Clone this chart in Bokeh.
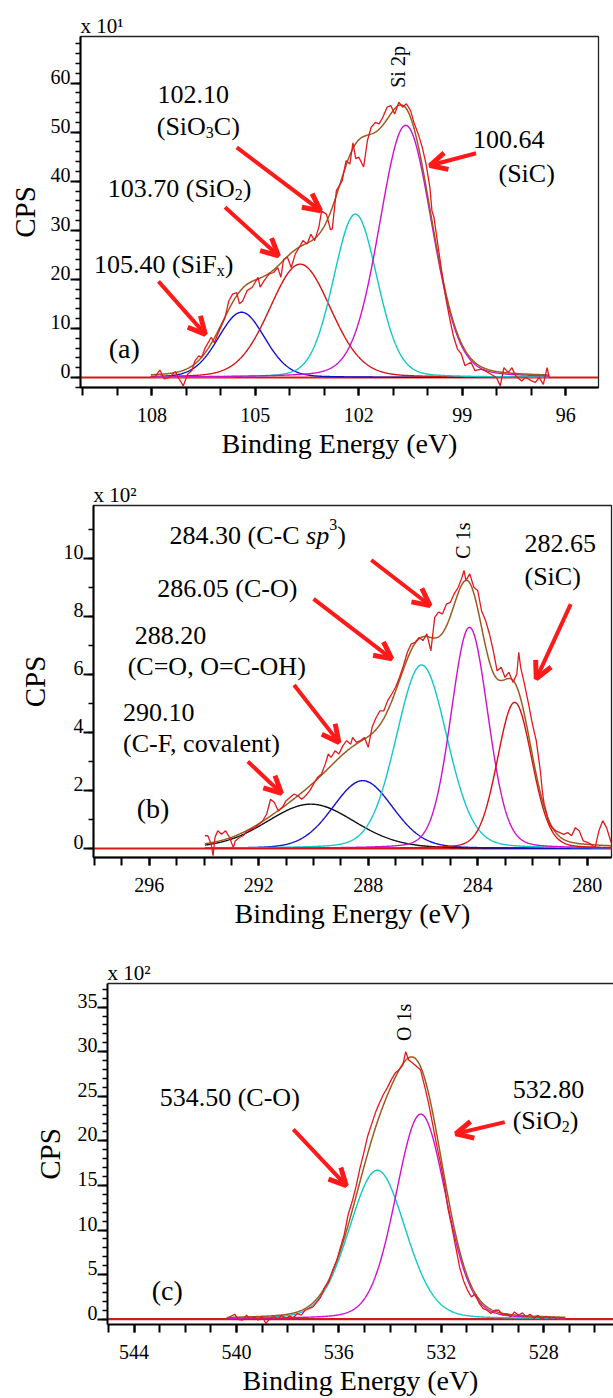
import numpy as np
from bokeh.plotting import figure
from bokeh.models import (Range1d, LinearAxis, SingleIntervalTicker, FixedTicker,
                          Label, Arrow, OpenHead, Title)
from bokeh.layouts import column
from bokeh.embed import file_html
from bokeh.resources import INLINE

FONT = "Liberation Serif"

# ---------------- data: (a) Si 2p  (counts x 10) ----------------
si_energy = [108.03, 107.92, 107.77, 107.64, 107.50, 107.32, 107.21, 107.09, 106.96, 106.84,
             106.75, 106.64, 106.56, 106.45, 106.28, 106.19, 106.05, 105.88, 105.77, 105.66,
             105.54, 105.46, 105.37, 105.24, 105.09, 104.92, 104.86, 104.75, 104.60, 104.47,
             104.35, 104.26, 104.18, 104.07, 103.96, 103.84, 103.73, 103.62, 103.50, 103.39,
             103.28, 103.16, 103.08, 102.94, 102.82, 102.77, 102.65, 102.48, 102.37, 102.26,
             102.17, 102.09, 102.00, 101.86, 101.75, 101.64, 101.52, 101.41, 101.30, 101.18,
             101.07, 100.96, 100.84, 100.73, 100.62, 100.50, 100.39, 100.28, 100.16, 100.05,
             99.94, 99.88, 99.82, 99.71, 99.60, 99.48, 99.37, 99.26, 99.14, 99.03,
             98.92, 98.75, 98.63, 98.46, 98.35, 98.18, 98.01, 97.90, 97.79, 97.67,
             97.56, 97.45, 97.28, 97.16, 96.99, 96.88, 96.77, 96.65, 96.54, 96.48]
si_counts = [0.3, 0.0, 1.5, -0.3, 0.0, 1.2, -0.3, -1.7, 0.7, 1.4,
             3.4, 4.4, 4.1, 6.1, 8.2, 7.1, 9.5, 12.2, 15.6, 17.0,
             17.3, 15.0, 15.6, 17.7, 18.4, 20.4, 18.4, 19.7, 21.1, 21.4,
             22.4, 20.4, 24.1, 24.5, 22.4, 25.2, 26.5, 27.9, 27.2, 29.2,
             27.9, 30.6, 33.9, 33.3, 30.1, 30.3, 38.1, 40.1, 44.2, 43.5,
             47.8, 44.6, 44.9, 42.9, 48.3, 51.0, 52.0, 51.7, 53.1, 55.1,
             55.4, 53.7, 56.1, 55.1, 55.8, 54.4, 51.7, 49.7, 46.9, 43.5,
             38.8, 34.0, 32.6, 27.2, 21.8, 16.3, 12.2, 8.5, 5.8, 4.8,
             2.4, 3.1, 1.4, 1.7, 1.4, 0.7, 0.0, -1.7, 2.0, 1.0,
             2.0, 0.3, -0.7, 0.0, -0.7, -1.0, 0.0, -1.4, 2.0, 0.0]
si_peak_centers = [105.40, 103.70, 102.10, 100.64]
si_peak_heights = [13.3, 23.1, 33.3, 51.4]
si_peak_fwhm = [1.6, 2.1, 1.5, 1.8]

# ---------------- data: (b) C 1s  (counts x 100) ----------------
c_energy = [293.97, 293.86, 293.74, 293.67, 293.60, 293.50, 293.36, 293.21, 293.07, 292.93,
            292.86, 292.71, 292.57, 292.43, 292.29, 292.14, 292.00, 291.86, 291.71, 291.57,
            291.43, 291.29, 291.14, 291.00, 290.86, 290.71, 290.57, 290.43, 290.29, 290.14,
            290.00, 289.86, 289.71, 289.57, 289.46, 289.36, 289.21, 289.07, 288.93, 288.79,
            288.64, 288.57, 288.43, 288.29, 288.14, 288.00, 287.86, 287.71, 287.57, 287.43,
            287.29, 287.14, 287.00, 286.86, 286.71, 286.57, 286.43, 286.29, 286.14, 286.00,
            285.86, 285.71, 285.57, 285.43, 285.29, 285.14, 285.00, 284.86, 284.71, 284.57,
            284.50, 284.43, 284.29, 284.14, 284.00, 283.86, 283.71, 283.57, 283.43, 283.29,
            283.14, 283.00, 282.86, 282.71, 282.57, 282.50, 282.43, 282.29, 282.14, 282.00,
            281.86, 281.71, 281.64, 281.57, 281.50, 281.43, 281.29, 281.14, 281.00, 280.86,
            280.71, 280.57, 280.43, 280.29, 280.14, 280.00, 279.86, 279.71, 279.57, 279.43,
            279.29, 279.14, 279.03]
c_counts = [0.44, 0.44, 0.15, -0.25, 0.38, 0.61, 0.49, 0.61, 0.38, 0.03,
            0.26, 0.38, 0.44, 0.61, 0.67, 0.72, 0.84, 0.95, 1.19, 1.70,
            1.59, 1.30, 1.42, 1.65, 1.76, 1.88, 1.82, 1.70, 1.82, 1.99,
            2.22, 2.45, 2.57, 2.91, 3.26, 3.14, 3.37, 3.26, 3.54, 3.72,
            3.60, 3.83, 3.66, 3.72, 3.83, 3.49, 4.18, 4.52, 4.75, 4.75,
            5.10, 5.33, 5.56, 5.90, 6.31, 6.77, 7.05, 7.11, 7.28, 7.17,
            7.40, 6.82, 7.97, 8.15, 8.09, 8.43, 8.49, 8.78, 9.01, 9.36,
            9.59, 9.24, 9.47, 9.01, 8.90, 8.20, 7.86, 7.40, 6.82, 6.13,
            6.25, 5.90, 6.08, 5.73, 6.02, 6.77, 6.25, 5.67, 4.98, 4.29,
            3.72, 2.68, 1.99, 1.53, 1.30, 0.96, 0.72, 0.61, 0.55, 0.49,
            0.55, 0.44, 0.72, 0.61, 0.26, 0.21, 0.15, 0.03, 0.61, 0.96,
            0.72, 0.26, 0.0]
c_peak_centers = [290.10, 288.20, 286.05, 284.30, 282.65]
c_peak_heights = [1.53, 2.34, 6.33, 7.63, 5.04]
c_peak_fwhm = [3.8, 2.6, 2.2, 1.6, 1.5]

# ---------------- data: (c) O 1s  (counts x 100) ----------------
o_energy = [540.38, 540.22, 540.07, 539.92, 539.76, 539.61, 539.46, 539.31, 539.15, 539.00,
            538.85, 538.69, 538.54, 538.39, 538.24, 538.08, 537.93, 537.78, 537.62, 537.47,
            537.32, 537.17, 537.01, 536.86, 536.71, 536.55, 536.40, 536.25, 536.09, 535.94,
            535.79, 535.64, 535.48, 535.33, 535.18, 535.02, 534.87, 534.72, 534.57, 534.41,
            534.26, 534.11, 533.95, 533.80, 533.65, 533.50, 533.39, 533.27, 533.11, 532.96,
            532.81, 532.65, 532.50, 532.35, 532.20, 532.04, 531.89, 531.74, 531.58, 531.43,
            531.28, 531.13, 530.97, 530.82, 530.67, 530.51, 530.36, 530.21, 530.06, 529.90,
            529.75, 529.60, 529.44, 529.29, 529.14, 528.98, 528.83, 528.68, 528.53, 528.37,
            528.22, 528.07, 527.91, 527.76, 527.61, 527.46, 527.30, 527.15]
o_counts = [0.07, 0.33, 0.55, -0.04, -0.11, 0.44, -0.04, 0.26, -0.11, 0.33,
            -0.48, 0.07, 0.33, -0.04, 0.44, 0.07, 0.33, 0.18, 0.63, 0.44,
            1.00, 1.18, 1.37, 1.92, 2.48, 3.58, 4.14, 5.43, 6.54, 8.02,
            9.50, 11.71, 13.19, 14.86, 16.89, 18.74, 20.58, 21.88, 23.17, 24.28,
            25.20, 25.94, 26.87, 27.60, 27.97, 28.53, 30.00, 29.08, 28.71, 28.34,
            27.97, 26.13, 24.28, 22.06, 19.84, 17.63, 15.41, 12.45, 10.24, 8.02,
            5.80, 4.32, 3.22, 2.48, 2.85, 1.74, 1.18, 1.00, 0.63, 1.00,
            1.00, 0.44, 0.63, 0.26, 0.81, 0.44, 0.70, 0.26, 0.55, 0.07,
            0.44, -0.04, 0.33, 0.07, 0.26, -0.04, 0.18, -0.04]
o_peak_centers = [534.50, 532.80]
o_peak_heights = [16.7, 23.0]
o_peak_fwhm = [2.6, 2.3]

# ---------------- styles ----------------
RAW = "#e3191c"
ENV = "#9a5b1e"
BASE = "#d11a1a"
ARROW = "#ff1a1a"
BLUE, CYAN, MAG, RED, BLACK = "#1010d0", "#10c8c8", "#d010d0", "#d81010", "#101010"

W = {' ': 250, '(': 333, ')': 333, '.': 250, ',': 250, '-': 333, '=': 564, 'A': 722, 'C': 667,
     'F': 556, 'H': 722, 'O': 722, 'S': 556, 'i': 278, 'c': 444, 'o': 500, 'v': 500, 'a': 444,
     'l': 278, 'e': 444, 'n': 500, 't': 278, 's': 389, 'p': 500, 'x': 500}

RAISE = 7  # pixels


def tw(s, size):
    return sum(W.get(ch, 500) for ch in s) / 1000.0 * size


def gl(x, c, h, w, m=0.15):
    u = (x - c) / (w / 2.0)
    return h * ((1 - m) * np.exp(-np.log(2) * u * u) + m / (1 + u * u))


def rich(p, x, y, runs, size=26):
    off = 0.0
    for text, kind in runs:
        fs = size
        yo = RAISE
        style = "normal"
        if kind == "sub":
            fs = 16
            yo = RAISE - 6
        elif kind == "sup":
            fs = 16
            yo = RAISE + 11
        elif kind == "it":
            style = "italic"
        p.add_layout(Label(x=x, y=y, x_offset=off, y_offset=yo, text=text,
                           text_font=FONT, text_font_size=f"{fs}px", text_font_style=style,
                           text_align="left", text_baseline="alphabetic", text_color="black"))
        off += tw(text, fs)


def arrow(p, x0, y0, x1, y1):
    p.add_layout(Arrow(x_start=x0, y_start=y0, x_end=x1, y_end=y1, line_color=ARROW,
                       line_width=4,
                       end=OpenHead(size=17, line_color=ARROW, line_width=5)))


def make_panel(xr, yr, w, h, borders, xint, xminor, yint, yminor, exp_txt, cps_gap,
               outline=True):
    p = figure(width=w, height=h, x_range=Range1d(*xr), y_range=Range1d(*yr),
               output_backend="svg", toolbar_location=None,
               min_border_left=borders[0], min_border_right=borders[1],
               min_border_top=borders[2], min_border_bottom=borders[3])
    if "frame_align" in p.properties():
        p.frame_align = False
    p.xgrid.visible = False
    p.ygrid.visible = False
    p.background_fill_color = "white"
    p.border_fill_color = "white"
    # multiplier "x 10^n" as the (left aligned) title
    p.title.text = "x 10" + exp_txt
    p.title.align = "left"
    p.title.offset = 0
    p.title.standoff = -2
    p.title.text_font = FONT
    p.title.text_font_size = "21px"
    p.title.text_font_style = "normal"
    p.title.text_color = "black"
    # x axis (bottom)
    xa = p.below[0]
    xa.ticker = SingleIntervalTicker(interval=xint, num_minor_ticks=xminor)
    xa.axis_line_width = 2
    xa.major_tick_line_width = 2
    xa.minor_tick_line_width = 2
    xa.major_tick_in = 0
    xa.minor_tick_in = 0
    xa.major_tick_out = 8
    xa.minor_tick_out = 8
    xa.major_label_text_font = FONT
    xa.major_label_text_font_size = "20px"
    xa.major_label_text_color = "black"
    xa.major_label_standoff = 12
    xa.axis_label = "Binding Energy (eV)"
    xa.axis_label_text_font = FONT
    xa.axis_label_text_font_size = "28px"
    xa.axis_label_text_font_style = "normal"
    xa.axis_label_text_color = "black"
    xa.axis_label_standoff = 3
    # y axis: tick marks only (labels not painted)
    ya = p.left[0]
    ya.ticker = SingleIntervalTicker(interval=yint, num_minor_ticks=yminor)
    ya.axis_line_width = 2
    ya.major_tick_line_width = 2
    ya.minor_tick_line_width = 1.6
    ya.major_tick_in = 0
    ya.minor_tick_in = 0
    ya.major_tick_out = 10
    ya.minor_tick_out = 5
    ya.major_label_text_font_size = "1px"
    ya.major_label_text_color = None
    ya.major_label_standoff = 0
    # label axis on a range shifted down, so that each label sits just above its tick
    ppu = (h - borders[2] - borders[3]) / (yr[1] - yr[0])
    d = 6.5 / ppu
    p.extra_y_ranges = {"lab": Range1d(yr[0] - d, yr[1] - d)}
    la = LinearAxis(y_range_name="lab",
                    ticker=SingleIntervalTicker(interval=yint, num_minor_ticks=0),
                    axis_line_color=None, major_tick_line_color=None,
                    minor_tick_line_color=None, major_tick_out=0, major_tick_in=0,
                    major_label_standoff=0, major_label_text_font=FONT,
                    major_label_text_font_size="20px", major_label_text_color="black")
    p.add_layout(la, "left")
    p.add_layout(Title(text="CPS", align="center", text_font=FONT, text_font_size="29px",
                       text_font_style="normal", text_color="black", standoff=cps_gap), "left")
    if outline:
        p.outline_line_color = "#222222"
        p.outline_line_width = 1.3
    else:
        p.outline_line_color = None
        top = LinearAxis(ticker=FixedTicker(ticks=[]), axis_line_color="#222222",
                         axis_line_width=1.3, major_label_text_font_size="1px",
                         major_label_text_color=None,
                         major_tick_line_color=None, minor_tick_line_color=None)
        p.add_layout(top, "above")
    return p


def draw_spectrum(p, xr, energy, counts, centers, heights, fwhm, colors):
    e = np.array(energy)
    grid = np.linspace(max(e), min(e), 600)
    comps = [gl(grid, c, hh, ww) for c, hh, ww in zip(centers, heights, fwhm)]
    env = np.sum(comps, axis=0)
    p.line([xr[0], xr[1]], [0, 0], line_color=BASE, line_width=2.2)
    for comp, col in zip(comps, colors):
        p.line(grid, comp, line_color=col, line_width=1.4)
    p.line(grid, env, line_color=ENV, line_width=1.5)
    p.line(energy, counts, line_color=RAW, line_width=1.3)


def rot_label(p, x, y, text, size=20):
    p.add_layout(Label(x=x, y=y, text=text, angle=np.pi / 2, text_font=FONT,
                       text_font_size=f"{size}px", text_align="center",
                       text_baseline="middle", text_color="black"))


# ---------------- panel (a) ----------------
xa_r = (110.07, 95.05)
ya_r = (-2.04, 69.5)
pa = make_panel(xa_r, ya_r, 613, 475, (80, 15, 36, 88), 3, 3, 10, 5, "\u00b9", 13)
draw_spectrum(pa, xa_r, si_energy, si_counts, si_peak_centers, si_peak_heights,
              si_peak_fwhm, [BLUE, RED, CYAN, MAG])
rich(pa, 107.84, 56.3, [("102.10", "n")])
rich(pa, 107.86, 49.7, [("(SiO", "n"), ("3", "sub"), ("C)", "n")])
rich(pa, 109.28, 37.1, [("103.70 (SiO", "n"), ("2", "sub"), (")", "n")])
rich(pa, 109.68, 21.6, [("105.40 (SiF", "n"), ("x", "sub"), (")", "n")])
rich(pa, 98.69, 47.1, [("100.64", "n")])
rich(pa, 97.95, 40.1, [("(SiC)", "n")])
rich(pa, 109.25, 4.4, [("(a)", "n")], size=28)
rot_label(pa, 100.85, 63.3, "Si 2p")
arrow(pa, 107.81, 19.6, 106.45, 8.8)
arrow(pa, 105.88, 34.7, 104.33, 24.8)
arrow(pa, 105.54, 46.9, 103.11, 34.0)
arrow(pa, 98.6, 45.7, 99.94, 43.2)

# ---------------- panel (b) ----------------
xb_r = (298.04, 279.11)
yb_r = (-0.31, 11.83)
pb = make_panel(xb_r, yb_r, 613, 465, (93, 2, 30, 83), 4, 4, 2, 2, "\u00b2", 19)
draw_spectrum(pb, xb_r, c_energy, c_counts, c_peak_centers, c_peak_heights,
              c_peak_fwhm, [BLACK, BLUE, CYAN, MAG, RED])
rich(pb, 295.26, 10.56, [("284.30 (C-C ", "n"), ("sp", "it"), ("3", "sup"), (")", "n")])
rich(pb, 295.71, 8.72, [("286.05 (C-O)", "n")])
rich(pb, 296.53, 7.11, [("288.20", "n")])
rich(pb, 296.79, 6.02, [("(C=O, O=C-OH)", "n")])
rich(pb, 296.96, 4.46, [("290.10", "n")])
rich(pb, 296.96, 3.37, [("(C-F, covalent)", "n")])
rich(pb, 282.29, 10.28, [("282.65", "n")])
rich(pb, 282.29, 9.13, [("(SiC)", "n")])
rich(pb, 296.46, 1.13, [("(b)", "n")], size=28)
rot_label(pb, 284.55, 10.62, "C 1s")
arrow(pb, 292.4, 3.0, 291.17, 1.9)
arrow(pb, 290.71, 5.64, 289.07, 3.66)
arrow(pb, 290.0, 8.61, 287.14, 6.54)
arrow(pb, 287.89, 9.95, 285.74, 8.38)
arrow(pb, 280.6, 8.43, 281.86, 5.85)

# ---------------- panel (c) ----------------
xc_r = (545.04, 525.27)
yc_r = (-0.6, 37.65)
pc = make_panel(xc_r, yc_r, 613, 458, (107, 0, 43, 70), 4, 4, 5, 5, "\u00b2", 18,
                outline=False)
draw_spectrum(pc, xc_r, o_energy, o_counts, o_peak_centers, o_peak_heights,
              o_peak_fwhm, [CYAN, MAG])
rich(pc, 543.0, 24.1, [("534.50 (C-O)", "n")])
rich(pc, 529.21, 25.0, [("532.80", "n")])
rich(pc, 529.21, 21.5, [("(SiO", "n"), ("2", "sub"), (")", "n")])
rich(pc, 543.31, 2.48, [("(c)", "n")], size=28)
rot_label(pc, 533.45, 33.3, "O 1s")
arrow(pc, 537.78, 21.3, 535.71, 14.97)
arrow(pc, 529.52, 22.1, 531.43, 20.8)

layout = column(pa, pb, pc, spacing=0)
open("out.html", "w").write(file_html(layout, INLINE))
